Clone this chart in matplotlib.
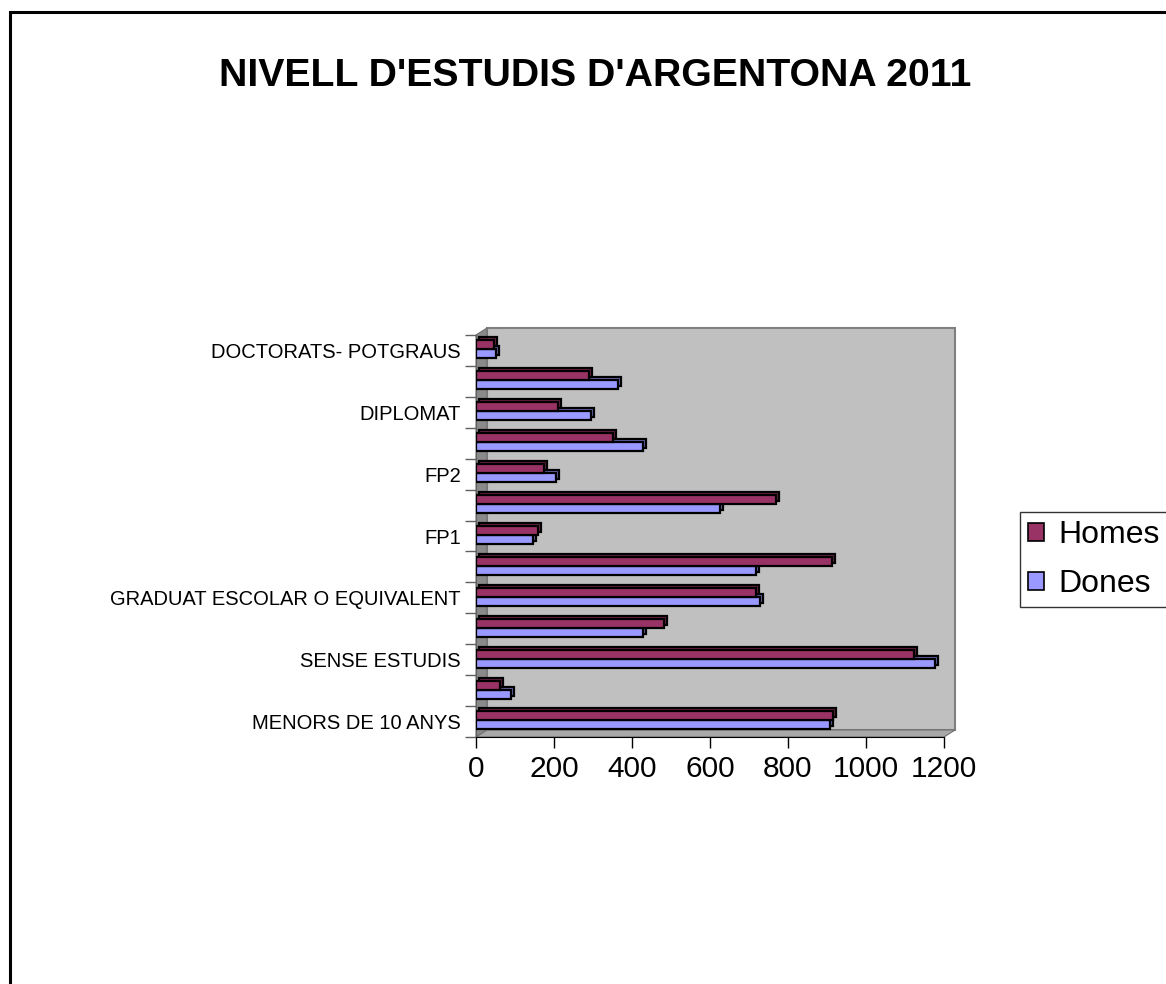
import numpy as np
import matplotlib
matplotlib.use("Agg")
import matplotlib.pyplot as plt
from matplotlib.patches import Polygon, Rectangle
from matplotlib.transforms import offset_copy

categories = ["MENORS DE 10 ANYS", "", "SENSE ESTUDIS", "", "GRADUAT ESCOLAR O EQUIVALENT",
              "", "FP1", "", "FP2", "", "DIPLOMAT", "", "DOCTORATS- POTGRAUS"]
homes = [915, 62, 1123, 482, 718, 912, 160, 769, 174, 352, 211, 291, 46]
dones = [908, 91, 1177, 427, 728, 718, 147, 626, 205, 427, 294, 363, 51]
xticks = [0, 200, 400, 600, 800, 1000, 1200]

col_homes = "#993366"
col_dones = "#9999FF"
side_homes = "#6B2447"
side_dones = "#6B6BB3"

plt.rcParams['font.family'] = ['Liberation Sans', 'DejaVu Sans']

W, H = 1166, 984
fig = plt.figure(figsize=(W / 100, H / 100), dpi=100)

# chart border, runs off right and bottom like the original
fig.patches.append(Rectangle((10 / W, -0.05), 1.2, 1 - 12 / H + 0.05, transform=fig.transFigure,
                             fill=False, edgecolor="black", linewidth=2.2))

fig.text(595 / W, 1 - 76 / H, "NIVELL D'ESTUDIS D'ARGENTONA 2011", ha="center", va="center",
         fontsize=28.3, fontweight="bold")

ax_w, ax_h = 468, 402
ax = fig.add_axes([476 / W, 1 - 737 / H, ax_w / W, ax_h / H])
ax.set_xlim(0, 1200)
ax.set_ylim(-0.5, len(categories) - 0.5)
ax.patch.set_visible(False)

# 3d box (back wall, left wall, floor) in axes fractions
dx, dy = 11 / ax_w, 7 / ax_h
ax.add_patch(Rectangle((dx, dy), 1, 1, transform=ax.transAxes, facecolor="#C0C0C0",
                       edgecolor="#808080", linewidth=1.5, zorder=0, clip_on=False))
ax.add_patch(Polygon([[0, 0], [0, 1], [dx, 1 + dy], [dx, dy]], closed=True,
                     transform=ax.transAxes, facecolor="#8A8A8A", edgecolor="#707070",
                     linewidth=0.8, zorder=0.5, clip_on=False))
ax.add_patch(Polygon([[0, 0], [1, 0], [1 + dx, dy], [dx, dy]], closed=True,
                     transform=ax.transAxes, facecolor="#A8A8A8", edgecolor="#707070",
                     linewidth=0.8, zorder=0.5, clip_on=False))

y = np.arange(len(categories))
bh = 0.29
yh = y + 0.18
yd = y - 0.11
shadow = offset_copy(ax.transData, fig=fig, x=3, y=3, units="dots")
ax.barh(yd, dones, height=bh, color=side_dones, edgecolor="black", linewidth=1.6,
        transform=shadow, zorder=2)
db = ax.barh(yd, dones, height=bh, color=col_dones, edgecolor="black", linewidth=1.6, zorder=3)
ax.barh(yh, homes, height=bh, color=side_homes, edgecolor="black", linewidth=1.6,
        transform=shadow, zorder=4)
hb = ax.barh(yh, homes, height=bh, color=col_homes, edgecolor="black", linewidth=1.6, zorder=5)

for s in ["top", "right"]:
    ax.spines[s].set_visible(False)
ax.spines["left"].set_color("#606060")
ax.spines["bottom"].set_color("black")

ax.set_xticks(xticks)
ax.set_xticklabels([str(v) for v in xticks], fontsize=21.5)
ax.tick_params(axis="x", length=8, width=1, pad=5, colors="black")

ax.set_yticks(np.arange(-0.5, len(categories), 1.0))
ax.set_yticklabels([])
ax.tick_params(axis="y", which="major", length=8, width=1, color="#606060")
ax.set_yticks(y[::2], minor=True)
ax.set_yticklabels(categories[::2], minor=True, fontsize=14.5)
ax.tick_params(axis="y", which="minor", length=0, pad=11)

leg = fig.legend(handles=[hb, db], labels=["Homes", "Dones"], loc="upper left",
                 bbox_to_anchor=(1020 / W, 1 - 512 / H), fontsize=23, frameon=True,
                 fancybox=False, edgecolor="black", handlelength=0.5, handleheight=0.5,
                 handletextpad=0.45, borderpad=0.25, labelspacing=0.6, borderaxespad=0)
leg.get_frame().set_linewidth(1.0)
for p in leg.get_patches():
    p.set_linewidth(1.2)

fig.savefig("out.png", dpi=100, facecolor="white")
